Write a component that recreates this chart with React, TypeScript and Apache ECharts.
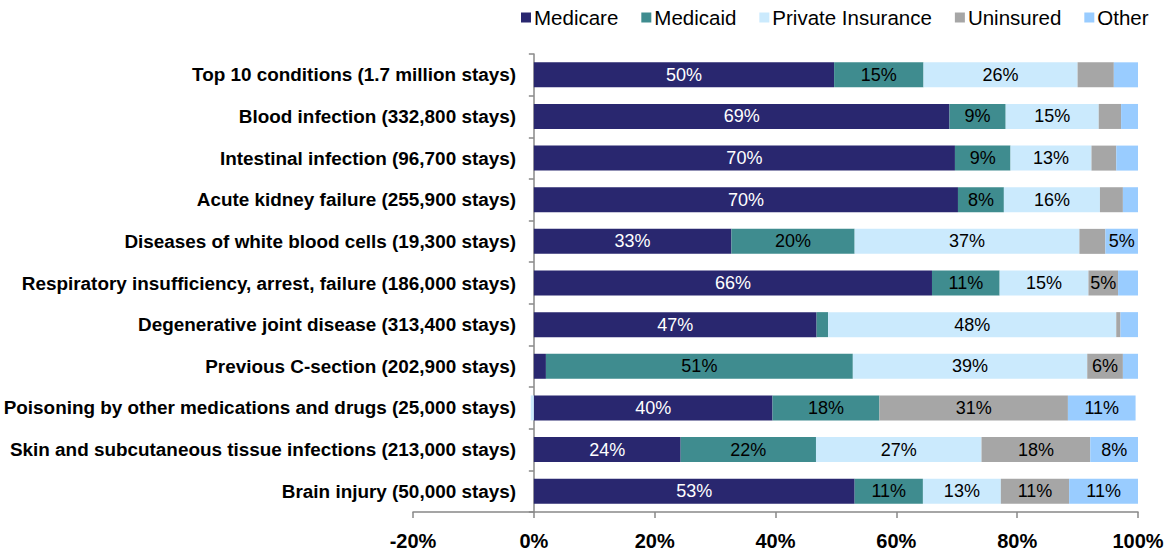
import React, { useEffect, useRef } from "react";
import * as echarts from "echarts";

const categories = [
  "Top 10 conditions (1.7 million stays)",
  "Blood infection (332,800 stays)",
  "Intestinal infection (96,700 stays)",
  "Acute kidney failure (255,900 stays)",
  "Diseases of white blood cells (19,300 stays)",
  "Respiratory insufficiency, arrest, failure (186,000 stays)",
  "Degenerative joint disease (313,400 stays)",
  "Previous C-section (202,900 stays)",
  "Poisoning by other medications and drugs (25,000 stays)",
  "Skin and subcutaneous tissue infections (213,000 stays)",
  "Brain injury (50,000 stays)",
];

const medicare = [49.7, 68.8, 69.7, 70.2, 32.7, 65.9, 46.8, 2.0, 39.5, 24.3, 53.1];
const medicaid = [14.8, 9.3, 9.2, 7.6, 20.4, 11.2, 1.9, 50.8, 17.7, 22.4, 11.3];
const privateIns = [25.5, 15.4, 13.4, 15.9, 37.2, 14.7, 47.7, 38.8, -0.5, 27.4, 12.9];
const uninsured = [6.0, 3.7, 4.1, 3.8, 4.3, 4.9, 0.7, 5.9, 31.2, 18.0, 11.3];
const other = [4.0, 2.8, 3.6, 2.5, 5.4, 3.3, 2.9, 2.5, 11.2, 7.9, 11.4];

// which segments carry a visible percentage label
const medicareShown = [true, true, true, true, true, true, true, false, true, true, true];
const medicaidShown = [true, true, true, true, true, true, false, true, true, true, true];
const privateShown = [true, true, true, true, true, true, true, true, false, true, true];
const uninsuredShown = [false, false, false, false, false, true, false, true, true, true, true];
const otherShown = [false, false, false, false, true, false, false, false, true, true, true];

const xTicks = { min: -20, max: 100, interval: 20 };

const FONT = 'Arial, "Liberation Sans", sans-serif';

function makeSeries(name: string, values: number[], shown: boolean[], color: string, labelColor: string) {
  return {
    name,
    type: "bar",
    stack: "total",
    barWidth: 25,
    itemStyle: { color },
    data: values.map((v, i) => ({
      value: v,
      label: { show: shown[i] },
    })),
    label: {
      position: "inside",
      color: labelColor,
      fontSize: 18,
      fontFamily: FONT,
      formatter: (p: any) => Math.round(p.value) + "%",
    },
  };
}

export default function App() {
  const ref = useRef<HTMLDivElement>(null);
  useEffect(() => {
    document.body.style.margin = "0";
    const chart = echarts.init(ref.current!, null, { renderer: "svg" });
    chart.setOption({
      animation: false,
      backgroundColor: "#ffffff",
      legend: {
        left: 516,
        top: 2,
        itemWidth: 10,
        itemHeight: 10,
        itemGap: 23,
        icon: "rect",
        textStyle: { fontSize: 20.5, fontFamily: FONT, color: "#000", padding: [0, 0, 0, -2] },
        data: ["Medicare", "Medicaid", "Private Insurance", "Uninsured", "Other"],
      },
      grid: { left: 413, right: 31, top: 54, bottom: 42, containLabel: false, outerBoundsMode: "none" },
      xAxis: {
        type: "value",
        min: xTicks.min,
        max: xTicks.max,
        interval: xTicks.interval,
        splitLine: { show: false },
        axisLine: { show: true, lineStyle: { color: "#888", width: 1.5 } },
        axisTick: { show: true, length: 6, lineStyle: { color: "#888", width: 1.5 } },
        axisLabel: {
          formatter: "{value}%",
          fontSize: 20,
          fontWeight: "bold",
          fontFamily: FONT,
          color: "#000",
          margin: 19,
        },
      },
      yAxis: {
        type: "category",
        inverse: true,
        data: categories,
        axisLine: { show: true, onZero: true, lineStyle: { color: "#888", width: 1.5 } },
        axisTick: { show: true, length: 5, lineStyle: { color: "#888", width: 1.5 } },
        axisLabel: {
          fontSize: 18.9,
          fontWeight: "bold",
          fontFamily: FONT,
          color: "#000",
          margin: -103,
        },
      },
      series: [
        makeSeries("Medicare", medicare, medicareShown, "#29276f", "#ffffff"),
        makeSeries("Medicaid", medicaid, medicaidShown, "#3f8c8f", "#000000"),
        makeSeries("Private Insurance", privateIns, privateShown, "#cbeafd", "#000000"),
        makeSeries("Uninsured", uninsured, uninsuredShown, "#a6a6a6", "#000000"),
        makeSeries("Other", other, otherShown, "#99ccff", "#000000"),
      ],
    });
    return () => chart.dispose();
  }, []);
  return <div ref={ref} style={{ width: 1169, height: 554 }} />;
}
